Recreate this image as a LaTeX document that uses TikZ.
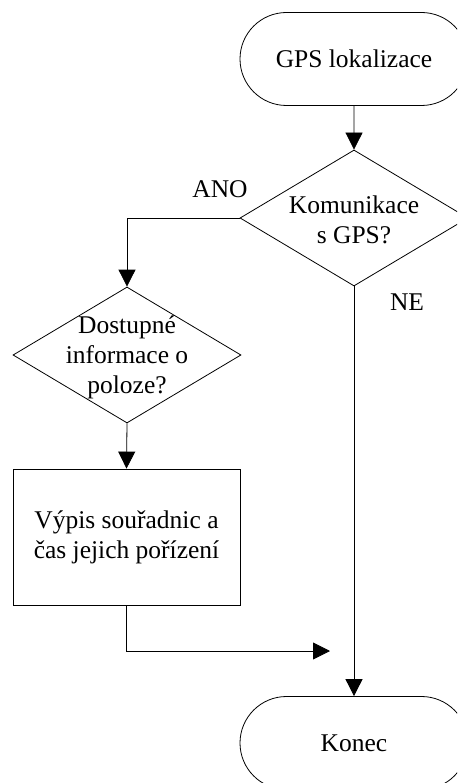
\documentclass[tikz,border=0pt]{standalone}
\usepackage{fontspec}
\setmainfont{Liberation Serif}
\usetikzlibrary{shapes.geometric,shapes.misc,arrows.meta}
\begin{document}
\begin{tikzpicture}[x=1pt,y=-1pt,
  line width=0.8pt,
  every node/.style={font=\fontsize{25.5}{30}\selectfont},
  term/.style={draw,rounded rectangle,minimum width=228pt,minimum height=93pt,inner sep=0pt},
  decision/.style={draw,diamond,minimum width=228pt,minimum height=136pt,inner sep=0pt},
  proc/.style={draw,rectangle,minimum width=227pt,minimum height=136pt,inner sep=0pt,align=center},
  caption/.style={align=center,inner sep=0pt},
  flow/.style={-{Triangle[length=17pt,width=17pt]}}]
  \useasboundingbox (0,0) rectangle (457,783);
  \clip (0,0) rectangle (457,783);

  % flow steps
  \node[term] (start) at (354,59) {GPS lokalizace};
  \node[decision] (q1) at (354,218) {};
  \node[caption] (q1text) at (354,220) {Komunikace\\s GPS?};
  \node[decision] (q2) at (127,355) {};
  \node[caption] (q2text) at (127,357) {Dostupné\\informace o\\poloze?};
  \node[proc] (out) at (126.5,537) {Výpis souřadnic a\\čas jejich pořízení};
  \node[term] (end) at (354,743) {Konec};

  % branch labels
  \node (ano) at (220,189) {ANO};
  \node (ne) at (407,302) {NE};

  \coordinate (join) at (330,651);

  % connectors
  \draw[flow] (start) -- (q1);
  \draw[flow] (q1.west) -| (q2.north);
  \draw[flow] (q1.south) -- (end.north);
  \draw[flow] (q2.south) -- (out.north);
  \draw[flow] (out.south) |- (join);
\end{tikzpicture}
\end{document}
